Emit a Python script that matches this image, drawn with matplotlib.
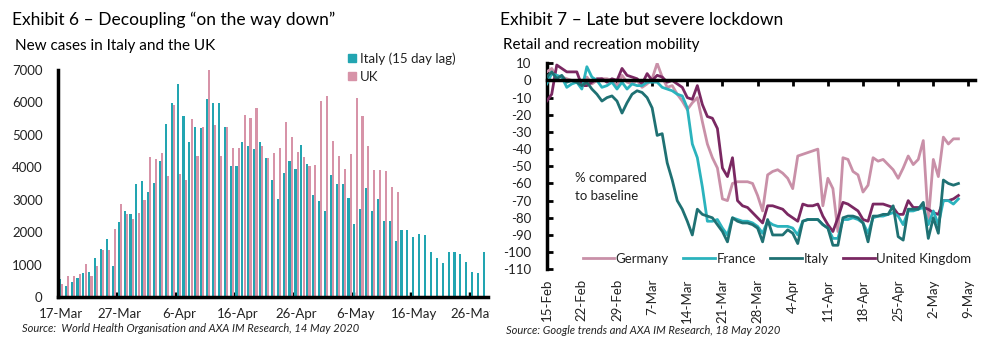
import numpy as np
import pandas as pd
import matplotlib
matplotlib.use("Agg")
import matplotlib.pyplot as plt
from matplotlib.patches import Patch
from matplotlib.transforms import Bbox, TransformedBbox

# ---------------- data: Exhibit 6 ----------------
cases_start = "2020-03-17"
italy_cases = [540, 330, 450, 575, 740, 760, 1215, 1470, 1780, 970,
               2310, 2650, 2545, 3500, 3570, 3240, 3520, 4200, 5320, 5990,
               6570, 5580, 4790, 5240, 5210, 6120, 5970, 5970, 5230, 4040,
               4040, 4770, 4670, 4560, 4795, 4300, 3600, 3025, 3820, 4190,
               3940, 4680, 4095, 3140, 2965, 2645, 3760, 3480, 3480, 3045,
               2245, 2725, 3375, 2655, 3015, 2335, 2335, 1720, 2060, 2060,
               1850, 1945, 1905, 1380, 1195, 1050, 1400, 1400, 1315, 1080,
               760, 740, 1400]
uk_cases = [410, 640, 640, 700, 1020, 640, 950, 1440, 1440, 2110,
            2860, 2550, 2420, 2600, 2990, 4330, 4250, 4445, 3725, 5920,
            3790, 3620, 5490, 4340, 5230, 7000, 5300, 4340, 5250, 4580,
            4610, 5600, 5515, 5835, 4660, 4300, 4445, 4580, 5390, 4920,
            4475, 4320, 4055, 4065, 6050, 6195, 4805, 4340, 3960, 4395,
            6150, 5580, 4650, 3910, 3910, 3880, 3395, 3230]
cases_ticklabels = ["17-Mar", "27-Mar", "6-Apr", "16-Apr", "26-Apr",
                    "6-May", "16-May", "26-May"]

# ---------------- data: Exhibit 7 ----------------
mob_start = "2020-02-15"
germany = [5, 7, 2, 2, 1, 0, -1, -2, 2, -2,
           0, 1, 1, 0, -3, 3, -1, -2, 0, -4,
           -2, 1, 10, 2, -4, -3, -8, -12, -17, -13,
           -10, -24, -37, -45, -51, -69, -70, -60, -59, -59,
           -59, -60, -67, -76, -55, -53, -52, -54, -57, -63,
           -44, -43, -42, -41, -40, -73, -57, -63, -88, -45,
           -46, -53, -55, -65, -61, -45, -47, -46, -49, -52,
           -57, -51, -44, -49, -46, -35, -82, -46, -56, -33,
           -37, -34, -34]
france = [-2, 4, 3, 2, -4, -2, -1, -5, 8, 2,
          0, -4, -3, -1, -5, -1, -5, -2, -3, -3,
          -1, -1, -1, -4, -5, -6, -8, -9, -16, -37,
          -45, -62, -82, -82, -81, -86, -90, -80, -81, -82,
          -82, -83, -85, -89, -82, -84, -85, -85, -85, -86,
          -90, -82, -81, -81, -81, -84, -86, -92, -92, -81,
          -81, -80, -81, -83, -89, -80, -79, -79, -78, -77,
          -79, -84, -76, -76, -75, -74, -84, -76, -84, -70,
          -70, -72, -69]
italy_mob = [2, 5, 1, 3, -1, 0, -1, -3, -1, -5,
             -8, -12, -10, -9, -12, -19, -13, -8, -6, -7,
             -10, -16, -32, -31, -48, -58, -70, -75, -82, -90,
             -75, -78, -79, -80, -84, -88, -94, -80, -82, -83,
             -83, -84, -86, -94, -81, -90, -90, -90, -87, -89,
             -95, -82, -81, -81, -81, -84, -86, -96, -96, -80,
             -79, -79, -80, -83, -94, -79, -79, -78, -78, -73,
             -91, -93, -75, -75, -75, -71, -92, -80, -89, -58,
             -60, -61, -60]
uk_mob = [-12, -8, 9, 7, 5, 5, 5, -3, -3, -1,
          1, 1, -1, 1, 0, 7, 3, 2, 1, -2,
          4, 0, 3, 2, -1, 0, -2, -4, -10, -11,
          -3, -14, -21, -22, -28, -51, -56, -45, -70, -73,
          -74, -77, -80, -83, -73, -73, -74, -75, -78, -80,
          -82, -72, -73, -73, -72, -79, -84, -88, -80, -71,
          -72, -74, -76, -81, -82, -72, -72, -72, -73, -74,
          -78, -78, -70, -74, -74, -74, -75, -77, -78, -70,
          -70, -69, -67]
mob_ticklabels = ["15-Feb", "22-Feb", "29-Feb", "7-Mar", "14-Mar", "21-Mar",
                  "28-Mar", "4-Apr", "11-Apr", "18-Apr", "25-Apr", "2-May", "9-May"]

# ---------------- style ----------------
FONT = ["Lato", "DejaVu Sans"]
plt.rcParams["font.family"] = FONT
TXT = "#222222"
TEAL = "#22A5B1"
PINK = "#D793A8"
C_DE = "#C990A8"
C_FR = "#2BB3BD"
C_IT = "#1F7173"
C_UK = "#7A2862"

W, H = 995, 358
fig = plt.figure(figsize=(W / 100, H / 100), dpi=100)

def fx(px):
    return px / W

def fy(py):
    return 1 - py / H

# ---------------- left chart ----------------
axL = fig.add_axes([fx(58), fy(297), fx(488 - 58), (297 - 70) / H])
cat = pd.date_range(cases_start, periods=len(italy_cases))
xi = np.arange(len(cat))
xu = np.arange(len(uk_cases))
bw = 0.36
axL.bar(xi - 0.19, italy_cases, width=bw, color=TEAL, label="Italy (15 day lag)", zorder=2)
axL.bar(xu + 0.19, uk_cases, width=bw, color=PINK, label="UK", zorder=2)
axL.set_xlim(-0.5, len(cat) - 0.5)
axL.set_ylim(0, 7000)
axL.set_yticks(np.arange(0, 7001, 1000))
axL.set_yticklabels([str(v) for v in range(0, 7001, 1000)])
axL.set_xticks(xi[::10])
axL.set_xticklabels(cases_ticklabels)
axL.set_xticks(xi[::10][1:] - 0.5, minor=True)
axL.tick_params(axis="x", which="major", length=0, pad=8, labelsize=9.5, labelcolor=TXT)
axL.tick_params(axis="x", which="minor", direction="in", length=3.5, width=2.5, color="black")
axL.tick_params(axis="y", length=0, pad=11, labelsize=9.5, labelcolor=TXT)
for s in ["top", "right"]:
    axL.spines[s].set_visible(False)
for s in ["left", "bottom"]:
    axL.spines[s].set_linewidth(2.5)
    axL.spines[s].set_color("black")
clipbox = TransformedBbox(Bbox([[0, 0], [490 / W, 1]]), fig.transFigure)
for lab in axL.get_xticklabels():
    lab.set_clip_box(clipbox)
    lab.set_clip_on(True)

legL = fig.legend(handles=[Patch(color=TEAL), Patch(color=PINK)],
                  labels=["Italy (15 day lag)", "UK"],
                  loc="upper left", bbox_to_anchor=(fx(343), fy(47)),
                  frameon=False, fontsize=9.5, handlelength=0.6, handleheight=0.6,
                  handletextpad=0.3, labelspacing=0.45, borderaxespad=0)
for t in legL.get_texts():
    t.set_color(TXT)

fig.text(fx(12), fy(20), "Exhibit 6 – Decoupling “on the way down”", fontsize=12.5,
         color="black", va="center", ha="left")
fig.text(fx(15), fy(46), "New cases in Italy and the UK", fontsize=11,
         color="black", va="center", ha="left")
fig.text(fx(22), fy(328), "Source:  World Health Organisation and AXA IM Research, 14 May 2020",
         fontsize=8, style="italic", color=TXT, va="center", ha="left")

# ---------------- right chart ----------------
axR = fig.add_axes([fx(546.7), fy(269.3), fx(975 - 546.7), (269.3 - 63.3) / H])
dates = pd.date_range(mob_start, periods=len(germany))
axR.plot(dates, germany, color=C_DE, lw=2, label="Germany", zorder=3)
axR.plot(dates, france, color=C_FR, lw=2, label="France", zorder=4)
axR.plot(dates, italy_mob, color=C_IT, lw=2, label="Italy", zorder=5)
axR.plot(dates, uk_mob, color=C_UK, lw=2, label="United Kingdom", zorder=3)
t0 = pd.Timestamp(mob_start)
axR.set_xlim(t0, t0 + pd.Timedelta(days=85.3))
axR.set_ylim(-110, 10)
axR.set_yticks(np.arange(-110, 11, 10))
axR.set_yticklabels([str(v) for v in range(-110, 11, 10)])
axR.tick_params(axis="y", direction="in", length=4, width=2, pad=11, labelsize=9.5,
                labelcolor=TXT)
tick_dates = pd.date_range(mob_start, periods=len(mob_ticklabels), freq="7D")
axR.set_xticks(tick_dates)
axR.tick_params(axis="x", direction="out", length=4, width=2, labelbottom=False)
for s in ["top", "right"]:
    axR.spines[s].set_visible(False)
axR.spines["bottom"].set_position(("data", 0))
axR.spines["bottom"].set_linewidth(2.5)
axR.spines["left"].set_linewidth(2.5)
axR.spines["bottom"].set_zorder(6)

sec = axR.secondary_xaxis(0.0)
sec.set_xticks(tick_dates)
sec.set_xticklabels(mob_ticklabels, rotation=90)
sec.tick_params(length=0, pad=7, labelsize=9.5, labelcolor=TXT)
sec.spines["bottom"].set_visible(False)

legR = axR.legend(loc="center", bbox_to_anchor=(fx(777), fy(259)),
                  bbox_transform=fig.transFigure, ncol=4, frameon=False,
                  fontsize=9.5, handlelength=2.4, handletextpad=0.1,
                  columnspacing=1.1, borderaxespad=0)
for t in legR.get_texts():
    t.set_color(TXT)

axR.text(0.065, 0.40, "% compared\nto baseline", transform=axR.transAxes,
         fontsize=9.5, color=TXT, va="center", ha="left", linespacing=1.55)

fig.text(fx(500), fy(20), "Exhibit 7 – Late but severe lockdown", fontsize=12.5,
         color="black", va="center", ha="left")
fig.text(fx(503), fy(45), "Retail and recreation mobility", fontsize=11,
         color="black", va="center", ha="left")
fig.text(fx(506), fy(331), "Source: Google trends and AXA IM Research, 18 May 2020",
         fontsize=8, style="italic", color=TXT, va="center", ha="left")

fig.savefig("out.png", dpi=100)
